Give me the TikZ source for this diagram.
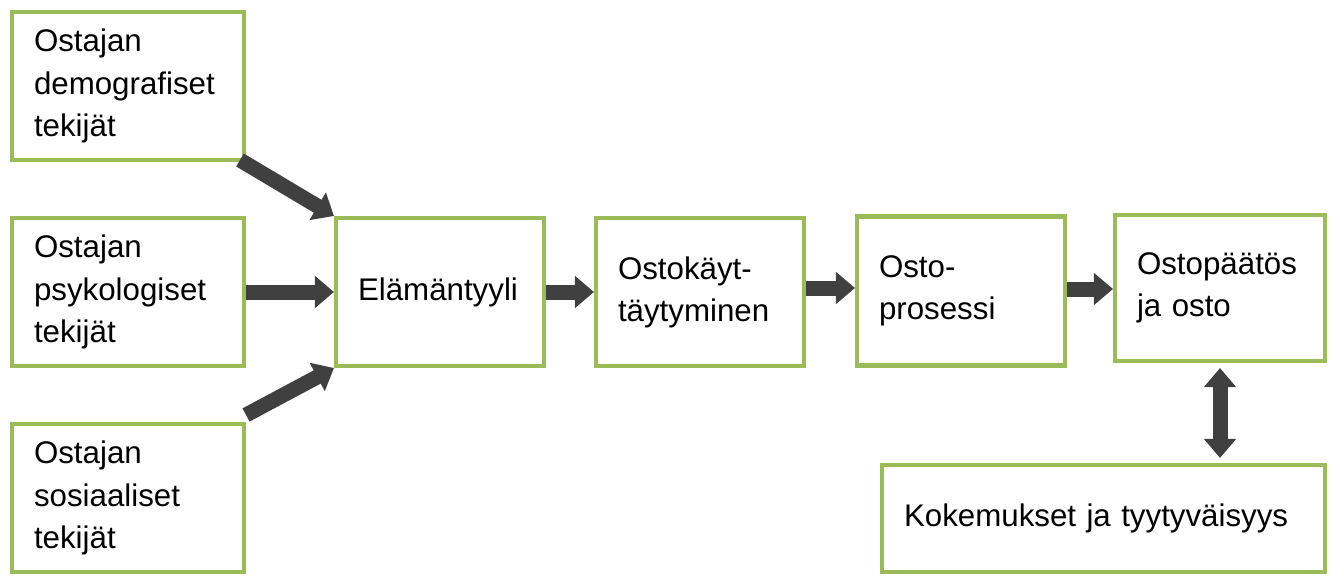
\documentclass[tikz,border=0pt]{standalone}
\usepackage{fontspec}
\setmainfont{Liberation Sans}
\usepackage{xcolor}
\usepackage{tikz}
\usetikzlibrary{arrows.meta}
\definecolor{boxgreen}{RGB}{155,187,89}
\definecolor{arrowgray}{RGB}{64,64,64}
\hyphenpenalty=10000

\begin{document}
\begin{tikzpicture}[
    box/.style={draw=boxgreen, line width=2.3pt, fill=white, align=left,
        inner xsep=0.44cm, inner ysep=0pt,
        font=\fontsize{17.8pt}{24pt}\selectfont},
    fat/.style={draw=arrowgray, line width=0.3cm,
        -{Triangle[width=0.62cm,length=0.38cm]}}
]
\useasboundingbox (0,0) rectangle (26.62,-11.52);
% the three factors
\node[box, text width=3.76cm, minimum height=2.96cm] (demo) at (2.56,-1.72) {Ostajan\\demografiset\\tekijät};
\node[box, text width=3.76cm, minimum height=2.96cm] (psyk) at (2.56,-5.84) {Ostajan\\psykologiset\\tekijät};
\node[box, text width=3.76cm, minimum height=2.96cm] (sos) at (2.56,-9.96) {Ostajan\\sosiaaliset\\tekijät};
% the chain
\node[box, text width=3.28cm, minimum height=2.96cm] (elam) at (8.80,-5.84) {Elämäntyyli};
\node[box, text width=3.28cm, minimum height=2.96cm] (kayt) at (14.00,-5.84) {Ostokäyt-\\täytyminen};
\node[box, text width=3.28cm, minimum height=2.98cm] (pros) at (19.22,-5.82) {Osto-\\prosessi};
\node[box, text width=3.32cm, minimum height=2.92cm] (paat) at (24.40,-5.76) {Ostopäätös\\ja osto};
\node[box, text width=7.98cm, minimum height=2.14cm] (kok) at (22.07,-10.37) {Kokemukset ja tyytyväisyys};
% arrows
\draw[fat] ([xshift=-0.12cm,yshift=0.04cm]demo.south east) -- (elam.north west);
\draw[fat] (psyk.east) -- (elam.west);
\draw[fat] ([yshift=0.14cm]sos.north east) -- (elam.south west);
\draw[fat] (elam.east) -- (kayt.west);
\draw[fat] ([yshift=0.08cm]kayt.east) -- ([yshift=0.08cm]kayt.east -| pros.west);
\draw[fat] ([yshift=0.04cm]pros.east) -- ([yshift=0.04cm]pros.east -| paat.west);
\draw[fat, {Triangle[width=0.62cm,length=0.38cm]}-{Triangle[width=0.62cm,length=0.38cm]}]
    ([yshift=-0.1cm]paat.south) -- ([yshift=0.1cm]paat.south |- kok.north);
\end{tikzpicture}
\end{document}
